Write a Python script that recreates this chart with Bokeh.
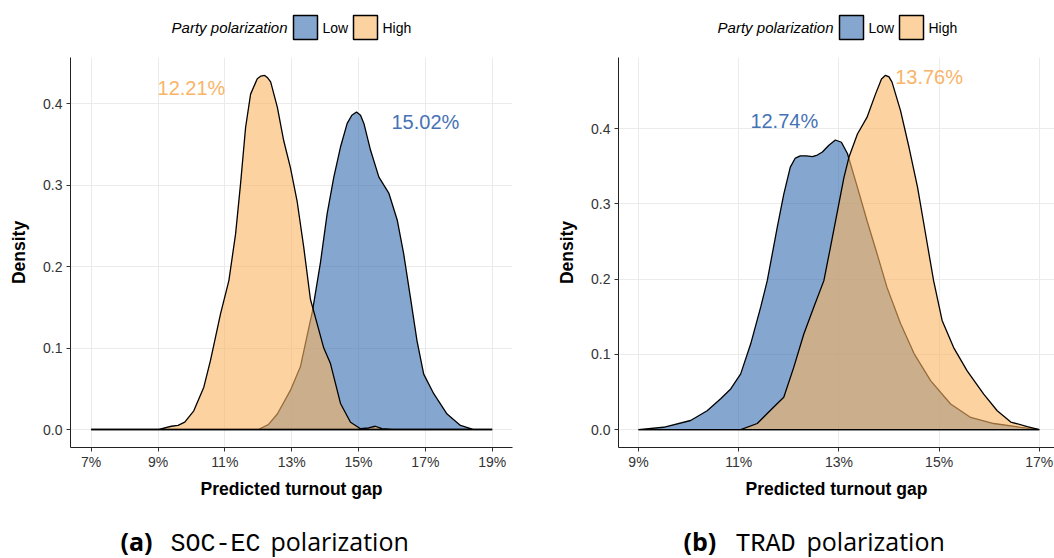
from bokeh.plotting import figure
from bokeh.layouts import row, column
from bokeh.models import Range1d, FixedTicker
from bokeh.core.properties import value
from bokeh.embed import file_html
from bokeh.resources import INLINE

# ---- density curves of the predicted turnout gap (x in %, y = density) ----
# (a) SOC-EC polarization
soc_low_x = [7.0, 12.0, 12.3, 12.57, 12.96, 13.26, 13.46, 13.62, 13.86, 14.06, 14.26,
             14.46, 14.66, 14.8, 14.94, 15.06, 15.16, 15.36, 15.61, 15.91, 16.16,
             16.35, 16.55, 16.75, 16.95, 17.25, 17.65, 18.05, 18.45, 19.0]
soc_low_y = [0.0, 0.0, 0.006, 0.019, 0.048, 0.077, 0.115, 0.145, 0.205, 0.265, 0.31,
             0.347, 0.376, 0.386, 0.39, 0.386, 0.376, 0.343, 0.31, 0.29, 0.257,
             0.216, 0.163, 0.109, 0.068, 0.044, 0.019, 0.005, 0.0, 0.0]
soc_high_x = [7.0, 9.0, 9.2, 9.4, 9.6, 9.8, 10.07, 10.37, 10.57, 10.87, 11.12, 11.32,
              11.47, 11.62, 11.77, 11.97, 12.07, 12.19, 12.28, 12.37, 12.57, 12.76,
              12.96, 13.16, 13.36, 13.56, 13.76, 13.96, 14.16, 14.46, 14.76, 15.06,
              15.3, 15.5, 15.7, 16.0, 19.0]
soc_high_y = [0.0, 0.0, 0.002, 0.004, 0.005, 0.009, 0.023, 0.052, 0.085, 0.142, 0.183,
              0.24, 0.302, 0.371, 0.412, 0.431, 0.434, 0.435, 0.432, 0.427, 0.396,
              0.355, 0.322, 0.281, 0.224, 0.16, 0.13, 0.1, 0.081, 0.032, 0.009,
              0.001, 0.002, 0.004, 0.001, 0.0, 0.0]
soc_means = ["15.02%", "12.21%"]          # Low, High
soc_mean_x = [17.0, 10.0]
soc_mean_y = [0.378, 0.419]
soc_ticks = [7, 9, 11, 13, 15, 17, 19]
soc_tick_labels = ["7%", "9%", "11%", "13%", "15%", "17%", "19%"]

# (b) TRAD polarization
trad_low_x = [9.0, 9.5, 10.04, 10.37, 10.64, 10.84, 11.04, 11.24, 11.44, 11.57, 11.77,
              11.9, 12.03, 12.13, 12.23, 12.35, 12.47, 12.57, 12.67, 12.8, 12.93,
              13.05, 13.17, 13.37, 13.56, 13.76, 13.96, 14.23, 14.5, 14.83, 15.23,
              15.63, 16.09, 16.62, 17.0]
trad_low_y = [0.0, 0.003, 0.012, 0.025, 0.041, 0.054, 0.074, 0.114, 0.163, 0.198,
              0.269, 0.313, 0.349, 0.361, 0.364, 0.364, 0.363, 0.365, 0.369, 0.378,
              0.385, 0.382, 0.367, 0.322, 0.278, 0.234, 0.189, 0.141, 0.101, 0.065,
              0.034, 0.016, 0.008, 0.003, 0.0]
trad_high_x = [9.0, 11.04, 11.37, 11.7, 11.9, 12.1, 12.3, 12.5, 12.7, 12.83, 12.97,
               13.1, 13.2, 13.37, 13.56, 13.73, 13.85, 13.93, 14.0, 14.06, 14.23, 14.4,
               14.57, 14.73, 14.89, 15.06, 15.29, 15.56, 15.89, 16.16, 16.43, 16.76,
               17.0]
trad_high_y = [0.0, 0.0, 0.008, 0.03, 0.043, 0.083, 0.127, 0.163, 0.198, 0.242, 0.29,
               0.335, 0.362, 0.393, 0.415, 0.446, 0.466, 0.471, 0.469, 0.462, 0.424,
               0.375, 0.322, 0.26, 0.198, 0.145, 0.109, 0.078, 0.047, 0.025, 0.01,
               0.004, 0.0]
trad_means = ["12.74%", "13.76%"]         # Low, High
trad_mean_x = [11.91, 14.8]
trad_mean_y = [0.41, 0.469]
trad_ticks = [9, 11, 13, 15, 17]
trad_tick_labels = ["9%", "11%", "13%", "15%", "17%"]

y_ticks = [0.0, 0.1, 0.2, 0.3, 0.4]
y_tick_labels = ["0.0", "0.1", "0.2", "0.3", "0.4"]
groups = ["Low", "High"]
legend_title = "Party polarization"

LOW_FILL = "#346BAD"
HIGH_FILL = "#FAB461"
FILL_ALPHA = 0.6
LOW_TEXT = "#4672B5"
HIGH_TEXT = "#F9B468"
SANS = "Liberation Sans"

PANEL_W = 527
KEY_H = 57       # strip holding the legend
PLOT_H = 453     # figure holding the axes
CAP_H = 48       # strip holding the sub-caption


def blank(height):
    """A figure without axes whose data units are pixels."""
    f = figure(width=PANEL_W, height=height, output_backend="svg",
               toolbar_location=None, x_axis_type=None, y_axis_type=None,
               x_range=Range1d(0, PANEL_W), y_range=Range1d(0, height),
               min_border=0)
    f.outline_line_color = None
    f.background_fill_color = "white"
    f.border_fill_color = "white"
    return f


def key_strip(title_right):
    """Horizontal legend: italic title followed by the two filled keys."""
    f = blank(KEY_H)
    cy = KEY_H - 27
    f.text(x=[title_right], y=[cy], text=[legend_title], text_font=value(SANS),
           text_font_style="italic", text_font_size="15px", text_align="right",
           text_baseline="middle", text_color="black")
    key_x = [title_right + 18, title_right + 78]
    f.rect(x=key_x, y=[cy, cy], width=24, height=24, width_units="screen",
           height_units="screen", fill_color=[LOW_FILL, HIGH_FILL],
           fill_alpha=FILL_ALPHA, line_color="black", line_width=1.5)
    f.text(x=[k + 17 for k in key_x], y=[cy, cy], text=groups,
           text_font=value(SANS), text_font_size="14px", text_align="left",
           text_baseline="middle", text_color="black")
    return f


def caption_strip(parts):
    f = blank(CAP_H)
    for txt, x, y, font, style in parts:
        f.text(x=[x], y=[y], text=[txt], text_font=value(font),
               text_font_style=style, text_font_size="25px", text_align="left",
               text_baseline="alphabetic", text_color="black")
    return f


def closed(xs, ys):
    # close the density polygon along the baseline
    return list(xs) + [xs[-1], xs[0]], list(ys) + [0.0, 0.0]


def panel(low, high, means, mean_x, mean_y, ticks, tick_labels, x_range, y_range,
          border_left, border_right):
    p = figure(width=PANEL_W, height=PLOT_H, output_backend="svg",
               toolbar_location=None,
               x_range=Range1d(*x_range), y_range=Range1d(*y_range),
               min_border_left=border_left, min_border_right=border_right,
               min_border_top=0, min_border_bottom=PLOT_H - 390)
    p.outline_line_color = None
    p.background_fill_color = "white"
    p.border_fill_color = "white"

    for g in (p.xgrid, p.ygrid):
        g.grid_line_color = "#EBEBEB"
        g.grid_line_width = 1
    p.xgrid.ticker = FixedTicker(ticks=ticks)
    p.ygrid.ticker = FixedTicker(ticks=y_ticks)

    p.xaxis.ticker = FixedTicker(ticks=ticks)
    p.xaxis.major_label_overrides = dict(zip(ticks, tick_labels))
    p.yaxis.ticker = FixedTicker(ticks=y_ticks)
    p.yaxis.major_label_overrides = dict(zip(y_ticks, y_tick_labels))
    for ax in (p.xaxis, p.yaxis):
        ax.axis_line_color = "#222222"
        ax.axis_line_width = 1
        ax.major_tick_line_color = "#333333"
        ax.major_tick_out = 4
        ax.major_tick_in = 0
        ax.minor_tick_line_color = None
        ax.major_label_text_font = SANS
        ax.major_label_text_font_size = "14px"
        ax.major_label_text_color = "#333333"
        ax.axis_label_text_font = SANS
        ax.axis_label_text_font_size = "17.5px"
        ax.axis_label_text_font_style = "bold"
        ax.axis_label_text_color = "black"
    p.xaxis.axis_label = "Predicted turnout gap"
    p.yaxis.axis_label = "Density"
    p.xaxis.major_label_standoff = 2
    p.yaxis.major_label_standoff = 4
    p.xaxis.axis_label_standoff = 6
    p.yaxis.axis_label_standoff = 11

    for (xs, ys), fill in zip((low, high), (LOW_FILL, HIGH_FILL)):
        px, py = closed(xs, ys)
        p.patch(px, py, fill_color=fill, fill_alpha=FILL_ALPHA,
                line_color="black", line_width=1.3)

    p.text(x=mean_x, y=mean_y, text=means, text_color=[LOW_TEXT, HIGH_TEXT],
           text_font=value(SANS), text_font_size="20px",
           text_align="center", text_baseline="middle")
    return p


pa = panel((soc_low_x, soc_low_y), (soc_high_x, soc_high_y), soc_means, soc_mean_x,
           soc_mean_y, soc_ticks, soc_tick_labels, (6.381, 19.607), (-0.0221, 0.457),
           70, 15)
pb = panel((trad_low_x, trad_low_y), (trad_high_x, trad_high_y), trad_means,
           trad_mean_x, trad_mean_y, trad_ticks, trad_tick_labels, (8.601, 17.303),
           (-0.0239, 0.4947), 91, 0)

ka = key_strip(287)
kb = key_strip(306)

ca = caption_strip([("(a)", 120, 18, "Open Sans", "bold"),
                    ("SOC-EC", 170, 14, "Liberation Mono", "normal"),
                    ("polarization", 270, 18, "Open Sans", "normal")])
cb = caption_strip([("(b)", 156, 18, "Open Sans", "bold"),
                    ("TRAD", 208, 14, "Liberation Mono", "normal"),
                    ("polarization", 279, 18, "Open Sans", "normal")])

layout = column(row(ka, kb, spacing=0), row(pa, pb, spacing=0),
                row(ca, cb, spacing=0), spacing=0)
open("out.html", "w").write(file_html(layout, INLINE))
